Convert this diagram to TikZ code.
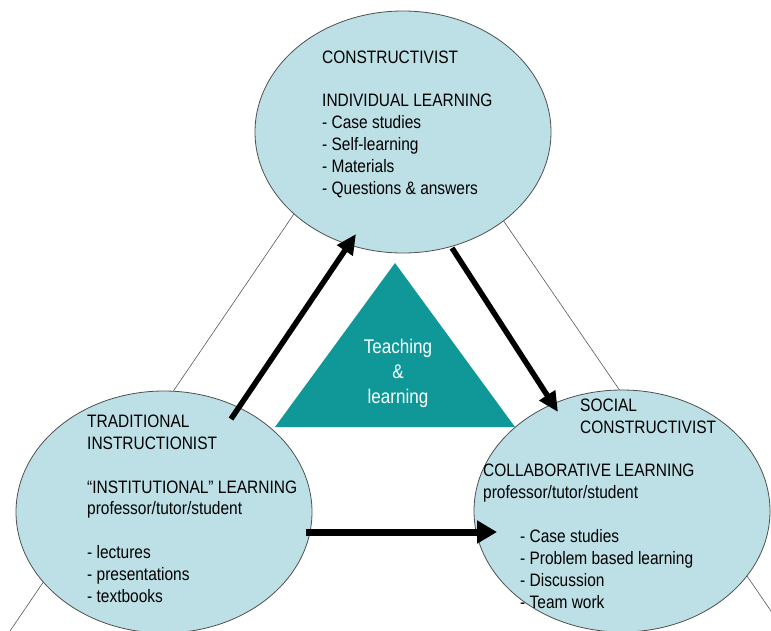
\documentclass[tikz,border=0pt]{standalone}
\usepackage{fontspec}
\setmainfont{Liberation Sans}[FakeStretch=0.86]
\usetikzlibrary{arrows.meta,shapes.geometric,calc}
\definecolor{ellfill}{RGB}{188,224,230}
\definecolor{tealfill}{RGB}{16,152,152}
\definecolor{ellline}{RGB}{80,80,80}
\begin{document}
\begin{tikzpicture}[x=1pt,y=-1pt,
  ell/.style={ellipse,draw=ellline,line width=0.8pt,fill=ellfill,minimum width=296pt,minimum height=242pt,inner sep=0pt},
  thinline/.style={draw=black!65,line width=0.6pt},
  txt/.style={anchor=base west,align=left,inner sep=0pt,font=\fontsize{18}{21.8}\selectfont},
  bigarrow/.style={line width=5.5pt,-{Triangle[length=20pt,width=18pt]}},
  hugearrow/.style={line width=7pt,-{Triangle[length=20pt,width=22pt]}}]
\useasboundingbox (0,0) rectangle (771,630);
\clip (0,0) rectangle (771,630);
\fill[white] (0,0) rectangle (771,630);
% big thin triangle behind
\coordinate (apex) at (396,64);
\coordinate (bl) at (-37,700);
\coordinate (br) at (832,700);
\draw[thinline] (bl) -- (apex) -- (br);
% ellipses
\node[ell] (T) at (403,132) {};
\node[ell] (L) at (164,512) {};
\node[ell] (R) at (622,511) {};
% teal triangle
\coordinate (ta) at (395,263);
\coordinate (tl) at (275,427);
\coordinate (tr) at (515,427);
\fill[tealfill] (tl) -- (ta) -- (tr) -- cycle;
\node[anchor=base,align=center,inner sep=0pt,text=white,font=\fontsize{19.8}{25}\selectfont] (tl1) at (398,403) {Teaching\\\&\\learning};
% arrows
\draw[bigarrow] ($(L.center)+(67,-93)$) -- ($(T.center)+(-47,102)$);
\draw[bigarrow] ($(T.center)+(49,116)$) -- ($(R.center)+(-64,-99)$);
\draw[hugearrow] ($(L.center)+(142,20)$) -- ($(R.center)+(-125,21)$);
% texts (anchored at the baseline of their last line)
\node[txt] (tt) at (322,194) {CONSTRUCTIVIST\\[21.8pt]INDIVIDUAL LEARNING\\- Case studies\\- Self-learning\\- Materials\\- Questions \& answers};
\node[txt] (lt) at (87,602) {TRADITIONAL\\INSTRUCTIONIST\\[21.8pt]“INSTITUTIONAL” LEARNING\\professor/tutor/student\\[21.8pt]- lectures\\- presentations\\- textbooks};
\node[txt] (rt1) at (580,433) {SOCIAL\\CONSTRUCTIVIST};
\node[txt] (rt2) at (483,498) {COLLABORATIVE LEARNING\\professor/tutor/student};
\node[txt] (rt3) at (520,608) {- Case studies\\- Problem based learning\\- Discussion\\- Team work};
\end{tikzpicture}
\end{document}
